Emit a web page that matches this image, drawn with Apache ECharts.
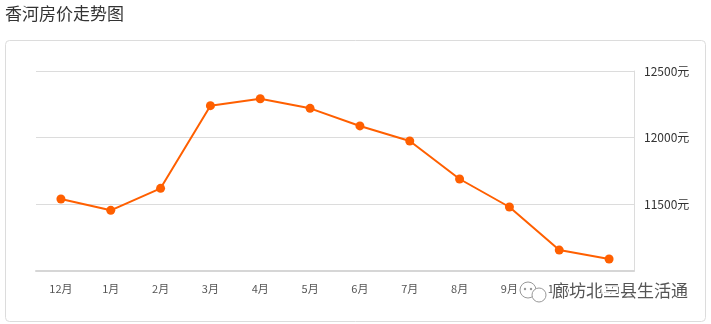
<!DOCTYPE html>
<html><head><meta charset="utf-8">
<script src="https://cdn.jsdelivr.net/npm/echarts@6/dist/echarts.min.js"></script>
<style>html,body{margin:0;padding:0;background:#fff;}#c{width:711px;height:324px;}</style>
</head><body><div id="c"></div>
<script>
var categories = ['12月','1月','2月','3月','4月','5月','6月','7月','8月','9月','10月','11月'];
var prices = [11540, 11455, 11620, 12240, 12292, 12220, 12088, 11975, 11690, 11480, 11157, 11090];
var yTicks = [11000, 11500, 12000, 12500];
var chartTitle = '香河房价走势图';
var watermark = '廊坊北三县生活通';

var chart = echarts.init(document.getElementById('c'));
var font = '"Noto Sans CJK SC", "Open Sans", sans-serif';
chart.setOption({
  animation: false,
  backgroundColor: '#fff',
  title: { text: chartTitle, left: 0, top: 0, textStyle: { fontSize: 17, fontWeight: 'normal', color: '#333', fontFamily: font } },
  graphic: [
    { type: 'rect', x: 0, y: 0, shape: { x: 5.5, y: 40.5, width: 700, height: 281, r: 4 }, style: { fill: 'none', stroke: '#dcdcdc', lineWidth: 1 }, z: 0 },
    { type: 'group', x: 519, y: 281, z: 100, children: [
      { type: 'circle', shape: { cx: 9, cy: 9, r: 8 }, style: { fill: '#fff', stroke: '#999', lineWidth: 1 } },
      { type: 'circle', shape: { cx: 20, cy: 14, r: 7 }, style: { fill: '#fff', stroke: '#999', lineWidth: 1 } },
      { type: 'circle', shape: { cx: 6, cy: 8, r: 1.2 }, style: { fill: '#999' } },
      { type: 'circle', shape: { cx: 12, cy: 8, r: 1.2 }, style: { fill: '#999' } }
    ]},
    { type: 'text', x: 552, y: 282, z: 100, style: { text: watermark, fontSize: 17, fill: '#555', fontFamily: font, stroke: '#fff', lineWidth: 3 } }
  ],
  grid: { left: 36, right: 77, top: 71, bottom: 53 },
  xAxis: {
    type: 'category', data: categories, boundaryGap: true,
    axisLine: { lineStyle: { color: '#d6d6d6', width: 2 } },
    axisTick: { alignWithLabel: true, length: 5, lineStyle: { color: '#d6d6d6' } },
    axisLabel: { color: '#555', fontSize: 11, margin: 12, fontFamily: font }
  },
  yAxis: {
    type: 'value', position: 'right', min: yTicks[0], max: yTicks[yTicks.length-1], interval: 500,
    axisLine: { show: true, lineStyle: { color: '#dcdcdc', width: 1 } },
    axisTick: { show: false },
    splitLine: { lineStyle: { color: '#dcdcdc' } },
    axisLabel: { color: '#333', fontSize: 12, margin: 10, fontFamily: font,
      formatter: function (v) { return v === yTicks[0] ? '' : v + '元'; } }
  },
  series: [{
    type: 'line', data: prices, symbol: 'circle', symbolSize: 9,
    lineStyle: { color: '#ff5f00', width: 2 }, itemStyle: { color: '#ff5f00' }
  }]
});
</script></body></html>
